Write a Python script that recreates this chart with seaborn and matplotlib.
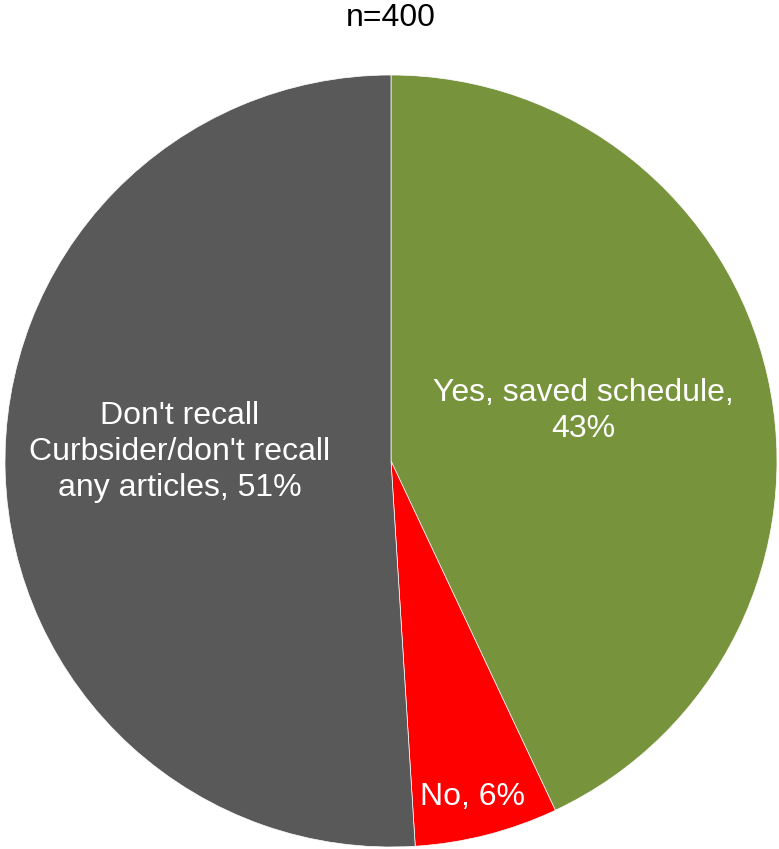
import numpy as np
import matplotlib.pyplot as plt
import seaborn as sns

# Survey answers (n=400)
categories = ["Yes, saved schedule", "No", "Don't recall\nCurbsider/don't recall\nany articles"]
shares = [43, 6, 51]
colors = ["#77933C", "#FF0000", "#595959"]
label_radius = [0.515, 0.895, 0.547]
label_shift = [2.0, -0.8, -4.2]  # degrees from wedge middle

sns.set_theme(style="white")
plt.rcParams['font.family'] = ['Liberation Sans', 'DejaVu Sans']

fig = plt.figure(figsize=(7.79, 8.49), dpi=100)
ax = fig.add_axes([5 / 779, 2 / 849, 772 / 779, 772 / 849])

wedges, _ = ax.pie(shares, colors=colors, startangle=90, counterclock=False,
                   wedgeprops=dict(edgecolor="white", linewidth=0.5))
ax.set_aspect("equal")
ax.set_xlim(-1, 1)
ax.set_ylim(-1, 1)

# labels inside the wedges
for w, cat, val, r, sh in zip(wedges, categories, shares, label_radius, label_shift):
    mid = np.deg2rad((w.theta1 + w.theta2) / 2 + sh)
    if cat == "Yes, saved schedule":
        txt = f"{cat},\n{val}%"
    else:
        txt = f"{cat}, {val}%"
    ax.text(r * np.cos(mid), r * np.sin(mid), txt, ha="center", va="center",
            color="white", fontsize=23, linespacing=1.27)

fig.text(391 / 779, 1 - 18 / 849, "n=400", ha="center", va="center", fontsize=23, color="black")

plt.savefig("out.png", dpi=100)
plt.close()
